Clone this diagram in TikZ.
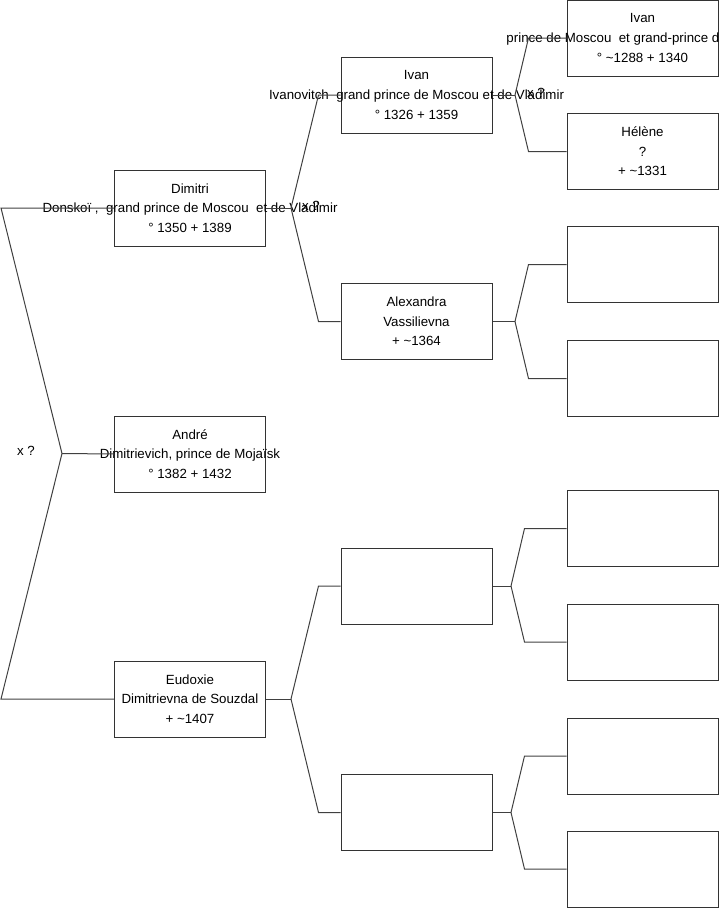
\documentclass[tikz,border=0pt]{standalone}
\usepackage{fontspec}
\setmainfont{Liberation Sans}
\usepackage{tikz}
\tikzset{
  personne/.style={rectangle,draw=black!80,line width=1pt,
    minimum width=151pt,minimum height=76pt,inner sep=0pt},
  texte/.style={align=center,inner sep=0pt,
    font=\fontsize{13.3}{19.6}\selectfont},
  lien/.style={draw=black!75,line width=1pt},
  union/.style={inner sep=0pt,font=\fontsize{13.3}{15}\selectfont}
}

\begin{document}
\begin{tikzpicture}[x=1pt,y=-1pt]
\useasboundingbox (0,0) rectangle (719,908);

% 1. Premiere generation
\node[personne] (dimitri) at (190,208) {};
\node[texte] (dimitri-t) at (dimitri)
  {Dimitri\\Donskoï ,\ \ grand prince de Moscou\ \ et de Vladimir\\° 1350 + 1389};
\node[personne] (andre) at (190,454) {};
\node[texte] (andre-t) at (andre)
  {André\\Dimitrievich, prince de Mojaïsk\\° 1382 + 1432};
\node[personne] (eudoxie) at (190,699) {};
\node[texte] (eudoxie-t) at (eudoxie)
  {Eudoxie\\Dimitrievna de Souzdal\\+ \textasciitilde1407};

% 2. Parents
\node[personne] (ivanII) at (416.5,95) {};
\node[texte] (ivanII-t) at (ivanII)
  {Ivan\\Ivanovitch\ \ grand prince de Moscou et de Vladimir\\° 1326 + 1359};
\node[personne] (alexandra) at (416.5,321.5) {};
\node[texte] (alexandra-t) at (alexandra)
  {Alexandra\\Vassilievna\\+ \textasciitilde1364};
\node[personne] (videA) at (416.5,586) {};
\node[personne] (videB) at (416.5,812.5) {};

% 3. Grands-parents
\node[personne] (ivanI) at (642.5,38) {};
\node[texte] (ivanI-t) at (ivanI)
  {Ivan\\prince de Moscou\ \ et grand-prince de Vladimir\\° \textasciitilde1288 + 1340};
\node[personne] (helene) at (642.5,151.5) {};
\node[texte] (helene-t) at (helene)
  {Hélène\\?\\+ \textasciitilde1331};
\node[personne] (videC) at (642.5,264.5) {};
\node[personne] (videD) at (642.5,378.5) {};
\node[personne] (videE) at (642.5,528.5) {};
\node[personne] (videF) at (642.5,642) {};
\node[personne] (videG) at (642.5,756) {};
\node[personne] (videH) at (642.5,869) {};

% 4. Fourches
\coordinate (fracine) at (62,453.5);
\coordinate (fdimitri) at (291,208);
\coordinate (feudoxie) at (291,699);
\coordinate (fivanII) at (515,95);
\coordinate (falexandra) at (515,321.5);
\coordinate (fvideA) at (511,586);
\coordinate (fvideB) at (511,812.5);

\draw[lien] (fracine) -- (andre.west);
\draw[lien] (fracine) -- ([xshift=-113pt]dimitri.west) -- (dimitri.west);
\draw[lien] (fracine) -- ([xshift=-113pt]eudoxie.west) -- (eudoxie.west);

\draw[lien] (dimitri.east) -- (fdimitri);
\draw[lien] (fdimitri) -- ([xshift=-22pt]ivanII.west) -- (ivanII.west);
\draw[lien] (fdimitri) -- ([xshift=-22pt]alexandra.west) -- (alexandra.west);

\draw[lien] (eudoxie.east) -- (feudoxie);
\draw[lien] (feudoxie) -- ([xshift=-22pt]videA.west) -- (videA.west);
\draw[lien] (feudoxie) -- ([xshift=-22pt]videB.west) -- (videB.west);

\draw[lien] (ivanII.east) -- (fivanII);
\draw[lien] (fivanII) -- ([xshift=-38pt]ivanI.west) -- (ivanI.west);
\draw[lien] (fivanII) -- ([xshift=-38pt]helene.west) -- (helene.west);

\draw[lien] (alexandra.east) -- (falexandra);
\draw[lien] (falexandra) -- ([xshift=-38pt]videC.west) -- (videC.west);
\draw[lien] (falexandra) -- ([xshift=-38pt]videD.west) -- (videD.west);

\draw[lien] (videA.east) -- (fvideA);
\draw[lien] (fvideA) -- ([xshift=-42pt]videE.west) -- (videE.west);
\draw[lien] (fvideA) -- ([xshift=-42pt]videF.west) -- (videF.west);

\draw[lien] (videB.east) -- (fvideB);
\draw[lien] (fvideB) -- ([xshift=-42pt]videG.west) -- (videG.west);
\draw[lien] (fvideB) -- ([xshift=-42pt]videH.west) -- (videH.west);

% 5. Unions
\node[union] (uracine) at (26,451) {x ?};
\node[union] (udimitri) at (311,206) {x ?};
\node[union] (uivanII) at (536,93) {x ?};

\end{tikzpicture}
\end{document}
